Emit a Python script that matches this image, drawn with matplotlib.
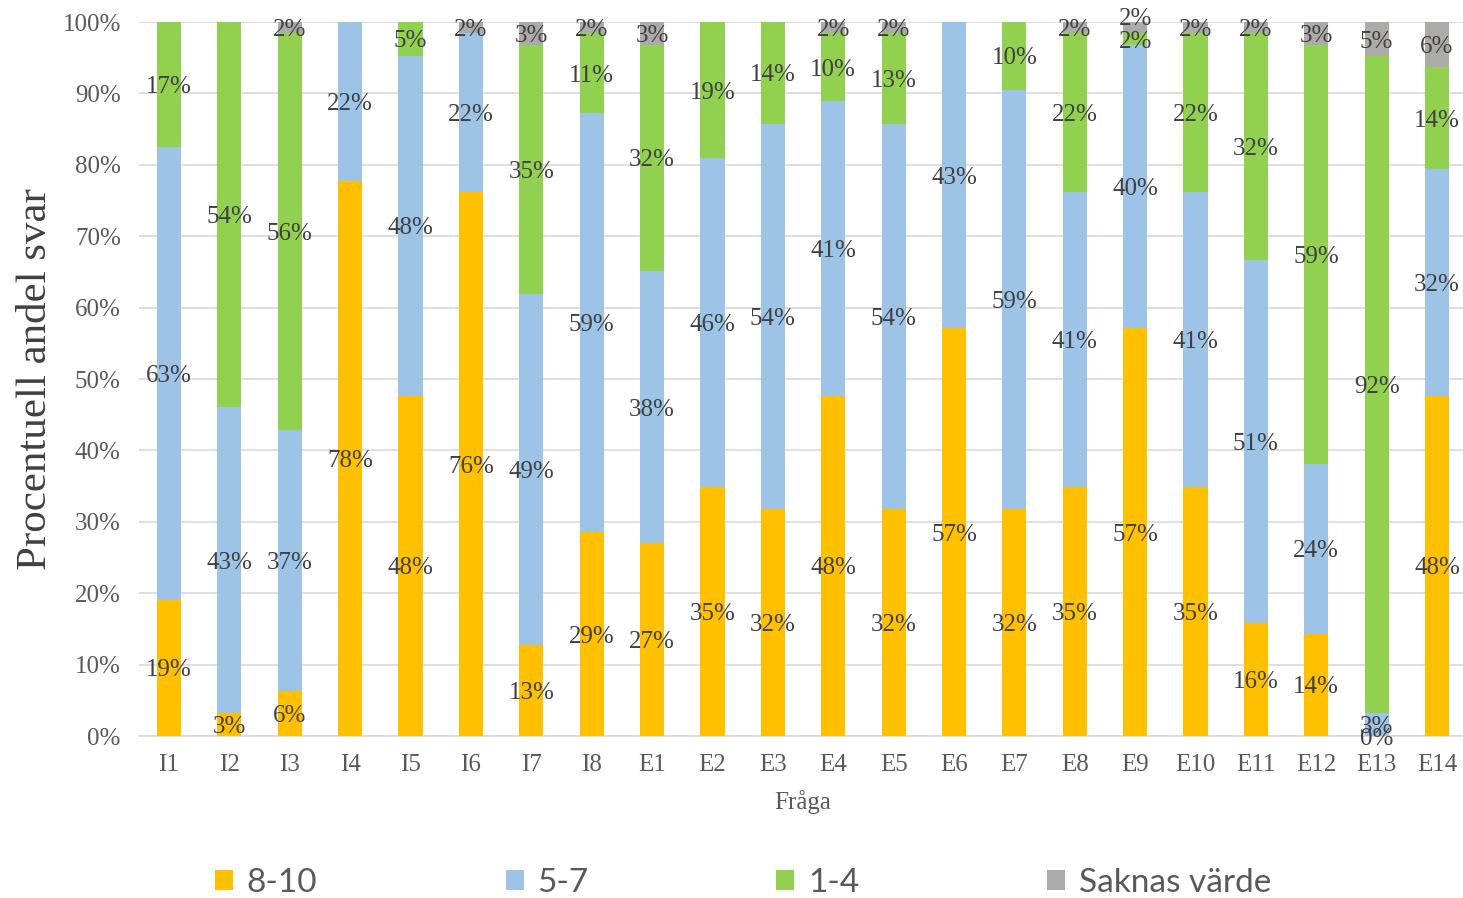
import matplotlib
matplotlib.use("Agg")
import matplotlib.pyplot as plt
from matplotlib.patches import Patch

# andel svar per fråga (%), n = 63 respondenter
fragor = ['I1', 'I2', 'I3', 'I4', 'I5', 'I6', 'I7', 'I8', 'E1', 'E2', 'E3',
          'E4', 'E5', 'E6', 'E7', 'E8', 'E9', 'E10', 'E11', 'E12', 'E13', 'E14']
hog = [19.05, 3.17, 6.35, 77.78, 47.62, 76.19, 12.70, 28.57, 26.98, 34.92, 31.75,
       47.62, 31.75, 57.14, 31.75, 34.92, 57.14, 34.92, 15.87, 14.29, 0.0, 47.62]
mellan = [63.49, 42.86, 36.51, 22.22, 47.62, 22.22, 49.21, 58.73, 38.10, 46.03, 53.97,
          41.27, 53.97, 42.86, 58.73, 41.27, 39.68, 41.27, 50.79, 23.81, 3.17, 31.75]
lag = [17.46, 53.97, 55.56, None, 4.76, None, 34.92, 11.11, 31.75, 19.05, 14.29,
       9.52, 12.70, None, 9.52, 22.22, 1.59, 22.22, 31.75, 58.73, 92.06, 14.29]
saknas = [None, None, 1.59, None, None, 1.59, 3.17, 1.59, 3.17, None, None,
          1.59, 1.59, None, None, 1.59, 1.59, 1.59, 1.59, 3.17, 4.76, 6.35]

serier = ['8-10', '5-7', '1-4', 'Saknas värde']
farger = ['#FFC000', '#9DC3E6', '#92D050', '#AEAAAA']

serif = 'Liberation Serif'

fig = plt.figure(figsize=(14.63, 8.98), dpi=100)
ax = fig.add_axes([0.0949, 0.1804, 0.908, 0.7951])

x = range(len(fragor))
botten = [0.0] * len(fragor)
for namn, varden, farg in zip(serier, [hog, mellan, lag, saknas], farger):
    h = [v if v is not None else 0 for v in varden]
    ax.bar(x, h, width=0.40, bottom=botten, color=farg, zorder=3)
    for i, v in enumerate(varden):
        if v is None:
            continue
        y = botten[i] + v / 2
        if namn == 'Saknas värde' and fragor[i] == 'E9':
            y += 1.6
        ax.text(i, y, '%.0f%%' % v, ha='center', va='center_baseline',
                fontsize=18, family=serif, color='#404040', zorder=4)
    botten = [b + hh for b, hh in zip(botten, h)]

ax.set_xlim(-0.5, len(fragor) - 0.5)
ax.set_ylim(0, 100)
ax.set_yticks(range(0, 101, 10))
ax.set_yticklabels(['%d%%' % t for t in range(0, 101, 10)])
ax.set_xticks(list(x))
ax.set_xticklabels(fragor)
ax.grid(axis='y', color='#D9D9D9', linewidth=1.2, zorder=0)
for s in ['top', 'right', 'left']:
    ax.spines[s].set_visible(False)
ax.spines['bottom'].set_color('#D9D9D9')
ax.spines['bottom'].set_linewidth(1.2)
ax.tick_params(length=0, labelsize=18, labelcolor='#595959')
ax.tick_params(axis='y', pad=13)
ax.tick_params(axis='x', pad=13)
for lab in ax.get_xticklabels() + ax.get_yticklabels():
    lab.set_family(serif)

ax.set_xlabel('Fråga', fontsize=18, family=serif, color='#595959', labelpad=10)
ax.set_ylabel('Procentuell andel svar', fontsize=31, family=serif,
              color='#404040', labelpad=5)

handles = [Patch(facecolor=f, edgecolor='none') for f in farger]
fig.legend(handles, serier, loc='center', bbox_to_anchor=(0.508, 0.017),
           ncol=4, frameon=False, prop={'family': 'Lato', 'size': 24},
           labelcolor='#595959', handlelength=0.54, handleheight=0.54,
           handletextpad=0.4, columnspacing=5.65)

fig.savefig('out.png', dpi=100)
